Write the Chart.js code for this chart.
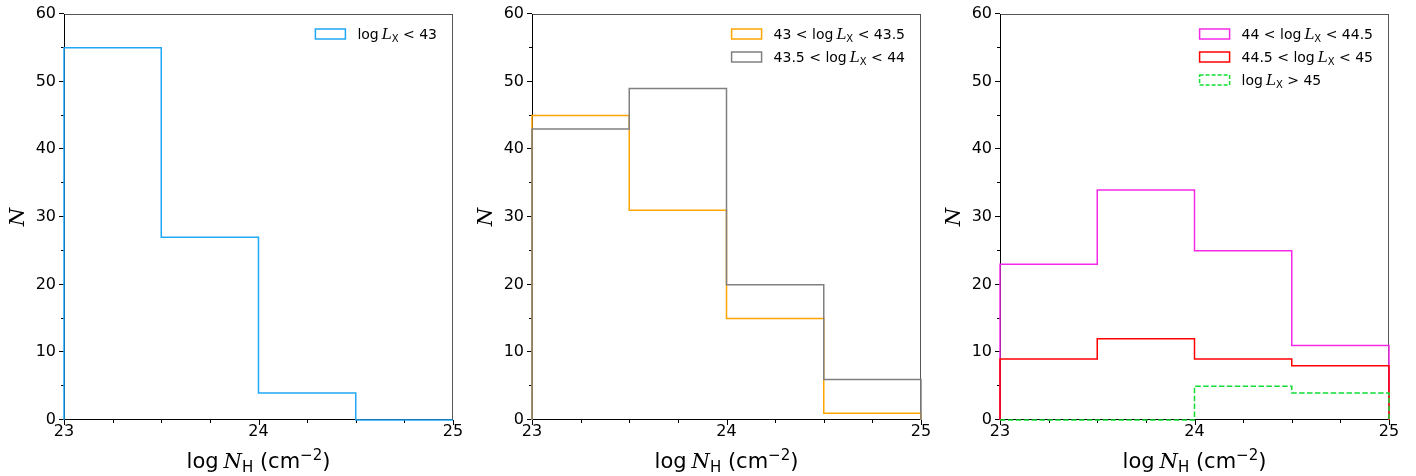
<!DOCTYPE html>
<html>
<head>
<meta charset="utf-8">
<script src="https://cdn.jsdelivr.net/npm/chart.js@4/dist/chart.umd.min.js"></script>
<style>
  html, body { margin: 0; padding: 0; background: #fff; }
  #wrap { position: relative; width: 1416px; height: 476px; }
  .panel { position: absolute; top: 0; width: 468px; height: 476px; }
</style>
</head>
<body>
<div id="wrap">
  <div class="panel" style="left:0px"><canvas id="c1"></canvas></div>
  <div class="panel" style="left:468px"><canvas id="c2"></canvas></div>
  <div class="panel" style="left:936px"><canvas id="c3"></canvas></div>
</div>
<script>
// --- data: histogram bin edges in log N_H and counts per bin ---
const binEdges = [23, 23.5, 24, 24.5, 25];
const xMajorTicks = [23, 24, 25];
const yMajorTicks = [0, 10, 20, 30, 40, 50, 60];

const countsBelow43 = [55, 27, 4, 0];
const counts43to435 = [45, 31, 15, 1];
const counts435to44 = [43, 49, 20, 6];
const counts44to445 = [23, 34, 25, 11];
const counts445to45 = [9, 12, 9, 8];
const countsAbove45 = [0, 0, 5, 4];

const SANS = 'DejaVu Sans';
const SERIF = 'DejaVu Serif';

// legend labels as text runs (math italic for L, subscript X)
function lxLabel(pre, post) {
  const runs = [];
  if (pre) runs.push({ t: pre + ' < ', f: `14px "${SANS}"` });
  runs.push({ t: 'log', f: `14px "${SANS}"` });
  runs.push({ t: ' ', f: `14px "${SANS}"`, w: 3 });
  runs.push({ t: 'L', f: `italic 15px "${SERIF}"` });
  runs.push({ t: 'X', f: `10px "${SANS}"`, dy: 3 });
  runs.push({ t: post, f: `14px "${SANS}"` });
  return runs;
}

// matplotlib step outline from bin edges + counts
function outline(counts) {
  const pts = [{ x: binEdges[0], y: 0 }];
  counts.forEach((c, i) => {
    pts.push({ x: binEdges[i], y: c });
    pts.push({ x: binEdges[i + 1], y: c });
  });
  pts.push({ x: binEdges[binEdges.length - 1], y: 0 });
  return pts;
}

function measureRuns(ctx, runs) {
  let w = 0;
  runs.forEach(r => {
    ctx.font = r.f;
    w += (r.w !== undefined) ? r.w : ctx.measureText(r.t).width;
  });
  return w;
}

function drawRuns(ctx, runs, x, y) {
  ctx.textBaseline = 'alphabetic';
  ctx.textAlign = 'left';
  runs.forEach(r => {
    ctx.font = r.f;
    const w = (r.w !== undefined) ? r.w : ctx.measureText(r.t).width;
    ctx.fillText(r.t, x, y + (r.dy || 0));
    x += w;
  });
  return x;
}

const frameAndText = {
  id: 'frameAndText',
  beforeDatasetsDraw(chart) {
    const { ctx, chartArea: a } = chart;
    ctx.save();
    ctx.lineWidth = 1;
    ctx.strokeStyle = '#555';
    ctx.beginPath();
    ctx.moveTo(a.left, a.top + 0.5); ctx.lineTo(a.right, a.top + 0.5);
    ctx.moveTo(a.right - 0.5, a.top); ctx.lineTo(a.right - 0.5, a.bottom);
    ctx.stroke();
    ctx.strokeStyle = '#000';
    ctx.beginPath();
    ctx.moveTo(a.left + 0.5, a.top); ctx.lineTo(a.left + 0.5, a.bottom);
    ctx.moveTo(a.left, a.bottom - 0.5); ctx.lineTo(a.right, a.bottom - 0.5);
    ctx.stroke();

    // tick marks, major + minor
    const xs = chart.scales.x, ys = chart.scales.y;
    ctx.beginPath();
    for (let v = 23; v <= 25.001; v += 0.25) {
      const px = Math.round(xs.getPixelForValue(v)) + 0.5;
      const len = xMajorTicks.includes(v) ? 5 : 3;
      ctx.moveTo(px, a.bottom); ctx.lineTo(px, a.bottom + len);
    }
    for (let v = 0; v <= 60; v += 5) {
      const py = Math.round(ys.getPixelForValue(v)) - 0.5;
      const len = yMajorTicks.includes(v) ? 5 : 3;
      ctx.moveTo(a.left, py); ctx.lineTo(a.left - len, py);
    }
    ctx.stroke();
    ctx.restore();
  },
  afterDraw(chart) {
    const { ctx, chartArea: a } = chart;
    ctx.save();
    ctx.fillStyle = '#000';

    // x axis title: log N_H (cm^-2)
    const xt = [
      { t: 'log', f: `21px "${SANS}"` },
      { t: ' ', f: `21px "${SANS}"`, w: 5 },
      { t: 'N', f: `italic 21px "${SERIF}"` },
      { t: 'H', f: `15px "${SANS}"`, dy: 4 },
      { t: ' (cm', f: `21px "${SANS}"` },
      { t: '\u22122', f: `15px "${SANS}"`, dy: -8 },
      { t: ')', f: `21px "${SANS}"` }
    ];
    const w = measureRuns(ctx, xt);
    drawRuns(ctx, xt, (a.left + a.right) / 2 - w / 2, 468);

    // y axis title: N
    ctx.save();
    ctx.translate(24, (a.top + a.bottom) / 2);
    ctx.rotate(-Math.PI / 2);
    ctx.font = `italic 21px "${SERIF}"`;
    ctx.textAlign = 'center';
    ctx.textBaseline = 'alphabetic';
    ctx.fillText('N', 0, 0);
    ctx.restore();

    // legend in upper right
    const items = chart.options.plugins.histLegend.items;
    let maxW = 0;
    items.forEach(it => { maxW = Math.max(maxW, measureRuns(ctx, it.runs)); });
    const textX = a.right - 16 - maxW;
    const boxX = textX - 12 - 30;
    items.forEach((it, i) => {
      const cy = 34 + i * 23;
      ctx.save();
      ctx.strokeStyle = it.color;
      ctx.lineWidth = 1.5;
      ctx.setLineDash(it.dash || []);
      ctx.strokeRect(boxX, cy - 5, 30, 10);
      ctx.restore();
      drawRuns(ctx, it.runs, textX, cy + 5);
    });
    ctx.restore();
  }
};

function stepDataset(counts, color, order, dash) {
  return {
    data: outline(counts),
    borderColor: color,
    borderWidth: 1.5,
    borderDash: dash || [],
    pointRadius: 0,
    fill: false,
    tension: 0,
    clip: 2,
    order: order
  };
}

function makePanel(id, datasets, legendItems) {
  new Chart(document.getElementById(id), {
    type: 'line',
    data: { datasets },
    options: {
      responsive: false,
      animation: false,
      maintainAspectRatio: false,
      layout: { padding: { top: 14, right: 15, left: 0, bottom: 0 } },
      plugins: {
        legend: { display: false },
        tooltip: { enabled: false },
        histLegend: { items: legendItems }
      },
      scales: {
        x: {
          type: 'linear',
          min: 23, max: 25,
          afterFit: s => { s.height = 56; },
          afterBuildTicks: s => { s.ticks = xMajorTicks.map(v => ({ value: v })); },
          border: { display: false },
          grid: { display: true, drawOnChartArea: false, drawTicks: true, tickLength: 2, tickColor: 'rgba(0,0,0,0)' },
          ticks: { font: { family: SANS, size: 16 }, color: '#000', padding: 0, maxRotation: 0, autoSkip: false }
        },
        y: {
          type: 'linear',
          min: 0, max: 60,
          afterFit: s => { s.width = 64; },
          afterBuildTicks: s => { s.ticks = yMajorTicks.map(v => ({ value: v })); },
          border: { display: false },
          grid: { display: true, drawOnChartArea: false, drawTicks: true, tickLength: 5, tickColor: 'rgba(0,0,0,0)' },
          ticks: { font: { family: SANS, size: 16 }, color: '#000', padding: 3 }
        }
      }
    },
    plugins: [frameAndText]
  });
}

['c1', 'c2', 'c3'].forEach(id => {
  const c = document.getElementById(id);
  c.width = 468; c.height = 476;
  c.style.width = '468px'; c.style.height = '476px';
});

const BLUE = '#20a8f8', ORANGE = '#ffa500', GREY = '#808080';
const MAGENTA = '#f52ae8', RED = '#ff0000', GREEN = '#11dd33';
const DASH = [5.5, 2.4];

makePanel('c1',
  [stepDataset(countsBelow43, BLUE, 0)],
  [{ color: BLUE, runs: lxLabel(null, ' < 43') }]);

makePanel('c2',
  [stepDataset(counts43to435, ORANGE, 1), stepDataset(counts435to44, GREY, 0)],
  [{ color: ORANGE, runs: lxLabel('43', ' < 43.5') },
   { color: GREY, runs: lxLabel('43.5', ' < 44') }]);

makePanel('c3',
  [stepDataset(counts44to445, MAGENTA, 2), stepDataset(counts445to45, RED, 1), stepDataset(countsAbove45, GREEN, 0, DASH)],
  [{ color: MAGENTA, runs: lxLabel('44', ' < 44.5') },
   { color: RED, runs: lxLabel('44.5', ' < 45') },
   { color: GREEN, runs: lxLabel(null, ' > 45'), dash: [4, 2] }]);
</script>
</body>
</html>
